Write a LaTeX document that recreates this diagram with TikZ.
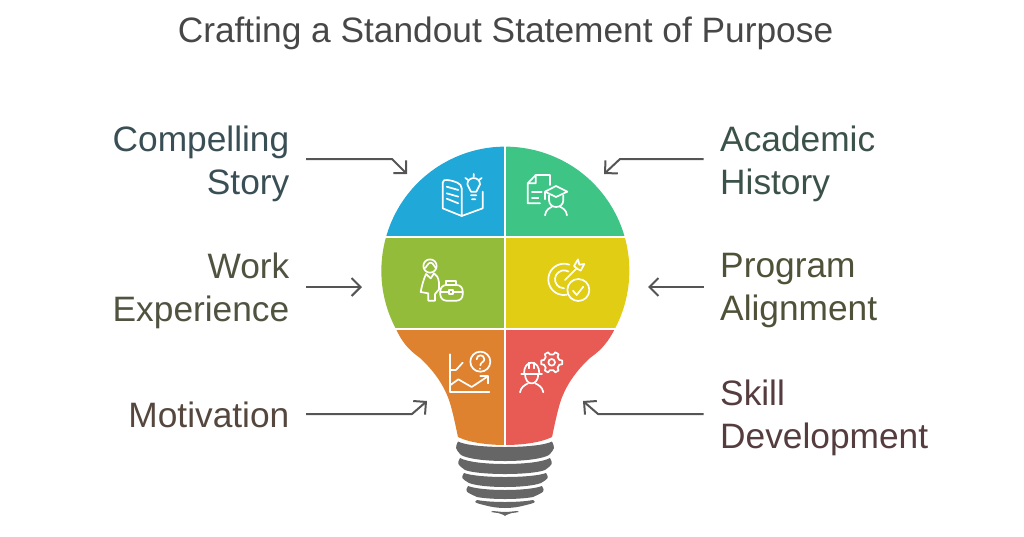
\documentclass[tikz,border=0pt]{standalone}
\usepackage{fontspec}
\setmainfont{Liberation Sans}
\usetikzlibrary{arrows.meta}
\definecolor{bulbblue}{HTML}{1FA8D8}
\definecolor{bulbgreen}{HTML}{3EC585}
\definecolor{bulbolive}{HTML}{93BC3A}
\definecolor{bulbyellow}{HTML}{E0CD14}
\definecolor{bulborange}{HTML}{DF8230}
\definecolor{bulbred}{HTML}{E85A54}
\definecolor{basegray}{HTML}{666666}
\definecolor{arrowgray}{HTML}{555555}
\begin{document}
\begin{tikzpicture}[
		x=1pt,y=-1pt,
		every node/.style={
				inner sep=0pt,
				font=\fontsize{35.3}{43}\selectfont,
			},
		labelleft/.style={anchor=east,align=right},
		labelright/.style={anchor=west,align=left},
		pointer/.style={arrowgray,line width=2pt,shorten <=16.5pt,line join=round,-{Straight Barb[length=9pt,width=18pt,line width=2pt]}},
		icon/.style={white,line width=1.7pt,line cap=round,line join=round},
	]
	\useasboundingbox (0,0) rectangle (1024,536);
	\node[font=\fontsize{35.3}{40}\selectfont,text=black!72] (title) at (505.5,33.5) {Crafting a Standout Statement of Purpose};

	% lamp glass
	\begin{scope}
		\clip (396.5,330) arc[start angle=151.4,end angle=388.6,radius=124]
			.. controls (606,346) and (598,352) .. (590,358)
			.. controls (578,369) and (566,384) .. (560,403)
			.. controls (556,417) and (554,428) .. (552,437)
			.. controls (540,443) and (520,445) .. (505,445)
			.. controls (490,445) and (470,443) .. (458,437)
			.. controls (456,428) and (454,417) .. (450,403)
			.. controls (444,384) and (432,369) .. (420,358)
			.. controls (412,352) and (404,346) .. (396.5,330) -- cycle;
		\foreach \col/\xa/\ya/\xb/\yb in {bulbblue/370/140/504/235.5,bulbgreen/506/140/640/235.5,bulbolive/370/237.5/504/328,bulbyellow/506/237.5/640/328,bulborange/370/330/504/450,bulbred/506/330/640/450} {
				\fill[\col] (\xa,\ya) rectangle (\xb,\yb);
			}
	\end{scope}

	% screw base
	\foreach \xa/\ya/\yc/\xb/\yb/\yd in {458/441.5/447/461/455/461,460/458/464/465/470/474,464/473/477/469/483/487,468/486/490/477/497/499,477/500/502/484/505/508,493/511/512/498/513/516} {
			\fill[basegray] (\xa,\ya)
				.. controls (\xa+14,{(4*\yc-\ya)/3}) and (1010-\xa-14,{(4*\yc-\ya)/3}) .. (1010-\xa,\ya)
				.. controls (1010-\xa+3,{(\ya+\yb)/2}) .. (1010-\xb,\yb)
				.. controls (1010-\xb-14,{(4*\yd-\yb)/3}) and (\xb+14,{(4*\yd-\yb)/3}) .. (\xb,\yb)
				.. controls (\xa-3,{(\ya+\yb)/2}) .. (\xa,\ya) -- cycle;
		}

	% upper icons
	\begin{scope}[shift={(370,140)},scale=1/3]
		% book and idea
		\draw[icon] (275,228) -- (218,205) -- (218,128) .. controls (218,120) and (225,119) .. (232,120) .. controls (255,123) and (275,130) .. (275,145) -- (275,228) -- (338,205) -- (338,155);
		\draw[icon] (230,140) -- (265,150) (230,160) -- (265,170) (230,176) -- (265,190);
		\draw[icon] (303,155) .. controls (303,145) and (292,143) .. (292,133) .. controls (292,108) and (330,108) .. (330,133) .. controls (330,143) and (319,145) .. (319,155) -- cycle;
		\draw[icon] (303,166) -- (319,166) (306,178) -- (316,178) (286,114) -- (294,120) (311,102) -- (311,110) (335,114) -- (327,120);
		% paper and graduate
		\draw[icon] (510,190) -- (473,190) -- (473,130) -- (497,105) -- (540,105) -- (540,135) (497,105) -- (497,130) -- (473,130);
		\draw[icon] (486,155) -- (515,155) (486,175) -- (505,175);
		\draw[icon] (525,155) -- (558,138) -- (592,155) -- (558,171) -- cycle (525,155) -- (525,178);
		\draw[icon] (537,166) -- (537,180) .. controls (537,208) and (580,208) .. (580,180) -- (580,166);
		\draw[icon] (525,226) .. controls (527,208) and (540,204) .. (546,200) (591,226) .. controls (589,208) and (576,204) .. (570,200);
		% employee and briefcase
		\draw[icon] (180,378) circle (20);
		\draw[icon] (162,385) .. controls (170,385) and (172,368) .. (182,368) .. controls (190,368) and (192,380) .. (198,385);
		\draw[icon] (168,402) .. controls (160,420) and (155,440) .. (152,456) -- (175,460) -- (175,482) -- (195,482) -- (195,462) -- (207,448) -- (207,428) .. controls (205,412) and (200,405) .. (192,400) -- (182,415) -- (168,402);
		\draw[icon,rounded corners=6pt] (211,435) rectangle (278,482);
		\draw[icon] (228,435) -- (228,423) -- (258,423) -- (258,435) (211,456) -- (236,456) (250,456) -- (278,456) (236,451) rectangle (250,462);
		% target and check
		\draw[icon] (598,374) arc[start angle=-70,end angle=-280,radius=47];
		\draw[icon] (595.5,394.6) arc[start angle=-60,end angle=-270,radius=27];
		\draw[icon] (625,450) circle (33);
		\draw[icon] (609,452) -- (620,465) -- (640,440);
		\draw[icon] (585,420) -- (620,385);
		\draw[icon] (612,378) -- (624,358) -- (628,374) -- (643,372) -- (632,392) -- (620,385) -- (612,378) -- cycle;
	\end{scope}

	% lower icons
	\begin{scope}[shift={(370,320)},scale=1/3]
		% chart and question
		\draw[icon] (240,103) -- (240,216) -- (358,216);
		\draw[icon] (240,196) -- (265,178) -- (305,201) -- (352,170);
		\draw[icon] (331,167) -- (355,167) -- (355,190);
		\draw[icon] (240,150) -- (258,150) -- (278,128);
		\draw[icon] (331,125) circle (30);
		\draw[icon] (320,118) .. controls (320,102) and (343,102) .. (343,118) .. controls (343,126) and (331,127) .. (331,136);
		\draw[icon] (331,146) -- (331,146.5);
		% worker and gear
		\draw[icon] (454,161) -- (516,161);
		\draw[icon] (462,161) .. controls (462,140) and (472,128) .. (485,128) .. controls (498,128) and (508,140) .. (508,161);
		\draw[icon] (478,128) -- (478,145) (492,128) -- (492,145);
		\draw[icon] (465,161) .. controls (465,200) and (505,200) .. (505,161);
		\draw[icon] (450,217) .. controls (453,200) and (465,195) .. (474,190) (520,217) .. controls (517,200) and (505,195) .. (496,190);
		\begin{scope}[shift={(545,127)}]
			\draw[icon] (-18:24) \foreach \a in {0,60,...,300} {
					-- (\a-18:24) -- (\a-10:32) -- (\a+10:32) -- (\a+18:24)
				} -- cycle;
			\draw[icon] (0,0) circle (10);
		\end{scope}
	\end{scope}

	% labels
	\node[labelleft,text={rgb,255:red,58;green,79;blue,85}] (story) at (289.5,164) {Compelling\\Story};
	\node[labelleft,text={rgb,255:red,79;green,83;blue,64}] (work) at (289.5,291) {Work\\Experience};
	\node[labelleft,text={rgb,255:red,85;green,71;blue,61}] (motivation) at (289.5,415) {Motivation};
	\node[labelright,text={rgb,255:red,59;green,82;blue,73}] (academic) at (720,164) {Academic\\History};
	\node[labelright,text={rgb,255:red,79;green,81;blue,56}] (program) at (720,291) {Program\\Alignment};
	\node[labelright,text={rgb,255:red,85;green,60;blue,63}] (skill) at (720,418) {Skill\\Development};

	% free ends of the arrows
	\coordinate (storybend) at (392,159);
	\coordinate (storytip) at (407,174);
	\coordinate (worktip) at (362,287);
	\coordinate (motivationbend) at (412,414);
	\coordinate (motivationtip) at (427,401);
	\coordinate (academicbend) at (620,159);
	\coordinate (academictip) at (604,174);
	\coordinate (programtip) at (648,287);
	\coordinate (skillbend) at (598,414);
	\coordinate (skilltip) at (583,401);

	\draw[pointer] (story.east |- storybend) -- (storybend) -- (storytip);
	\draw[pointer] (work.east |- worktip) -- (worktip);
	\draw[pointer] (motivation.east |- motivationbend) -- (motivationbend) -- (motivationtip);
	\draw[pointer] (academic.west |- academicbend) -- (academicbend) -- (academictip);
	\draw[pointer] (program.west |- programtip) -- (programtip);
	\draw[pointer] (skill.west |- skillbend) -- (skillbend) -- (skilltip);
\end{tikzpicture}
\end{document}
